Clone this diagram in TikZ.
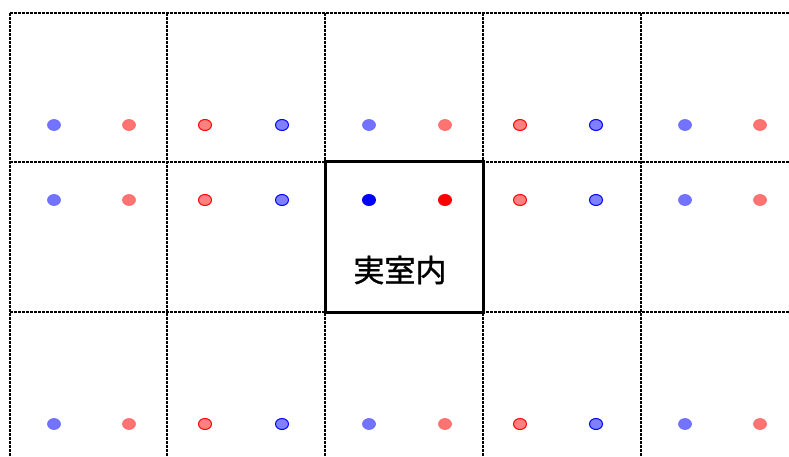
\documentclass[tikz,border=0pt]{standalone}
\usepackage{fontspec}
\newfontfamily\cjk[FakeBold=1.2]{Noto Sans CJK JP}
\begin{document}
\begin{tikzpicture}[x=1pt,y=-1pt,
  gridline/.style={line width=2pt,dash pattern=on 3pt off 1pt,black},
  roombox/.style={line width=3pt,black},
  imgdot/.style={fill=#1!55,draw=#1!60,line width=0.6pt},
  imgdotb/.style={fill=#1!50,draw=#1,line width=1pt},
  realdot/.style={fill=#1,draw=none}]
\useasboundingbox (0,0) rectangle (789,457);
% grid
\foreach \y in {13,162,312} \draw[gridline] (10,\y) -- (789,\y);
\foreach \x in {10,167,325,483,641} \draw[gridline] (\x,13) -- (\x,457);
% room
\draw[roombox] (325,162) rectangle (483,312);
% dots
\foreach \y in {125,200,424}{
  \filldraw[imgdot=blue] (54,\y) ellipse (6.5 and 5.5);
  \filldraw[imgdot=red] (129,\y) ellipse (6.5 and 5.5);
  \filldraw[imgdotb=red] (205,\y) ellipse (6.5 and 5.5);
  \filldraw[imgdotb=blue] (282,\y) ellipse (6.5 and 5.5);
  \filldraw[imgdotb=red] (520,\y) ellipse (6.5 and 5.5);
  \filldraw[imgdotb=blue] (596,\y) ellipse (6.5 and 5.5);
  \filldraw[imgdot=blue] (685,\y) ellipse (6.5 and 5.5);
  \filldraw[imgdot=red] (760,\y) ellipse (6.5 and 5.5);
}
\foreach \y in {125,424}{
  \filldraw[imgdot=blue] (369,\y) ellipse (6.5 and 5.5);
  \filldraw[imgdot=red] (445,\y) ellipse (6.5 and 5.5);
}
\fill[realdot=blue] (369,200) ellipse (7 and 6);
\fill[realdot=red] (445,200) ellipse (7 and 6);
\node[font=\cjk\fontsize{31}{36}\selectfont,inner sep=0pt] (label) at (400,270) {実室内};
\end{tikzpicture}
\end{document}
